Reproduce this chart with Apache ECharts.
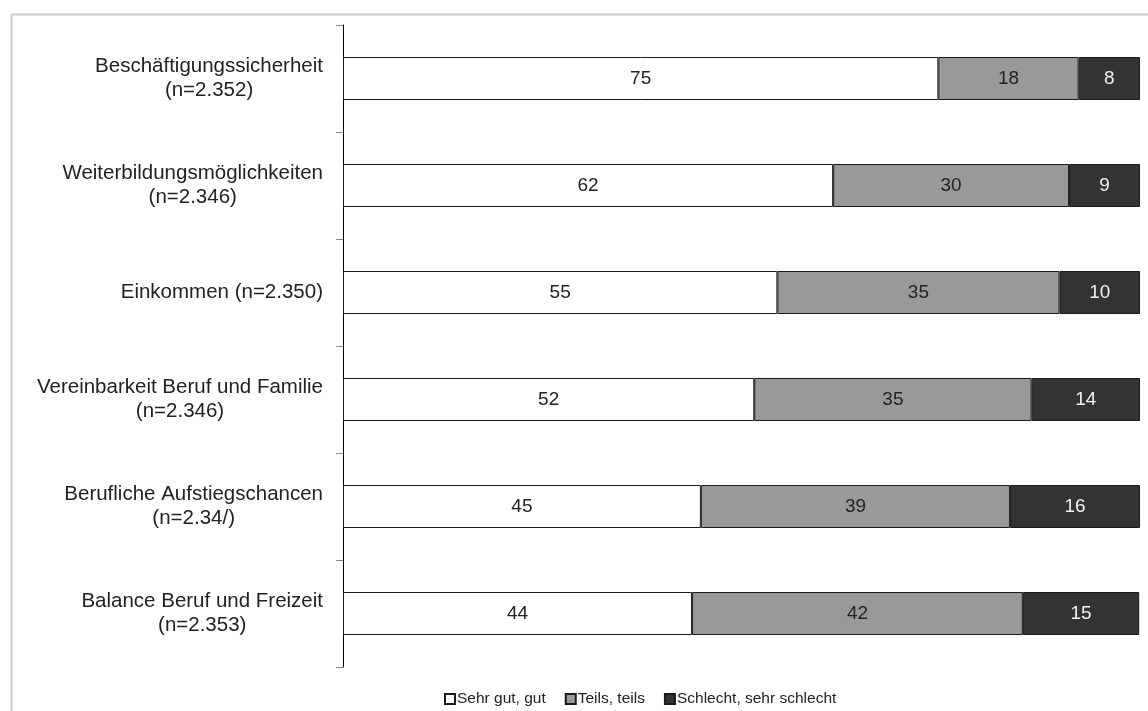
<!DOCTYPE html>
<html>
<head>
<meta charset="utf-8">
<script src="https://cdn.jsdelivr.net/npm/echarts@6/dist/echarts.min.js"></script>
<style>
html,body{margin:0;padding:0;background:#fff;}
#chart{width:1148px;height:711px;}
</style>
</head>
<body>
<div id="chart"></div>
<script>
const categories = [
  'Beschäftigungssicherheit\n(n=2.352)',
  'Weiterbildungsmöglichkeiten\n(n=2.346)',
  'Einkommen (n=2.350)',
  'Vereinbarkeit Beruf und Familie\n(n=2.346)',
  'Berufliche Aufstiegschancen\n(n=2.34/)',
  'Balance Beruf und Freizeit\n(n=2.353)'
];
const seriesNames = ['Sehr gut, gut', 'Teils, teils', 'Schlecht, sehr schlecht'];
const sehrGut   = [74.7, 61.5, 54.5, 51.6, 44.9, 43.8];
const teils     = [17.6, 29.6, 35.4, 34.8, 38.8, 41.5];
const schlecht  = [7.7, 8.9, 10.1, 13.6, 16.3, 14.6];

const fills = ['#ffffff', '#999999', '#333333'];
const labelColors = ['#222222', '#222222', '#f2f2f2'];
const values = [sehrGut, teils, schlecht];

const chart = echarts.init(document.getElementById('chart'));
const FONT = '"Liberation Sans", Arial, sans-serif';

chart.setOption({
  animation: false,
  backgroundColor: '#ffffff',
  graphic: [{
    type: 'rect',
    left: 9, top: 12,
    shape: { width: 1150, height: 710 },
    style: { fill: 'none', stroke: '#cccccc', lineWidth: 2 },
    silent: true
  }],
  grid: { left: 343, right: 8, top: 25, bottom: 44, containLabel: false },
  legend: {
    left: 439, top: 686,
    icon: 'rect',
    itemWidth: 10, itemHeight: 10, itemGap: 19,
    textStyle: { fontFamily: FONT, fontSize: 15.5, color: '#222', padding: [0, 0, 0, -3] },
    data: seriesNames
  },
  xAxis: { type: 'value', min: 0, max: 100, show: false },
  yAxis: {
    type: 'category',
    inverse: true,
    data: categories,
    axisLine: { show: true, lineStyle: { color: '#000', width: 1 } },
    axisTick: { show: true, length: 7, lineStyle: { color: '#888' } },
    axisLabel: {
      margin: 20,
      formatter: v => v.split('\n').map(l => '{c|' + l + '}').join('\n'),
      rich: { c: { align: 'center', fontSize: 20.5, lineHeight: 24, color: '#222', fontFamily: FONT } }
    }
  },
  series: seriesNames.map((name, i) => ({
    name: name,
    type: 'bar',
    stack: 'total',
    barWidth: 43,
    data: values[i],
    itemStyle: { color: fills[i], borderColor: '#1a1a1a', borderWidth: 1 },
    label: {
      show: true,
      position: 'inside',
      formatter: p => Math.round(p.value),
      fontSize: 19,
      fontFamily: FONT,
      color: labelColors[i]
    }
  }))
});
</script>
</body>
</html>
